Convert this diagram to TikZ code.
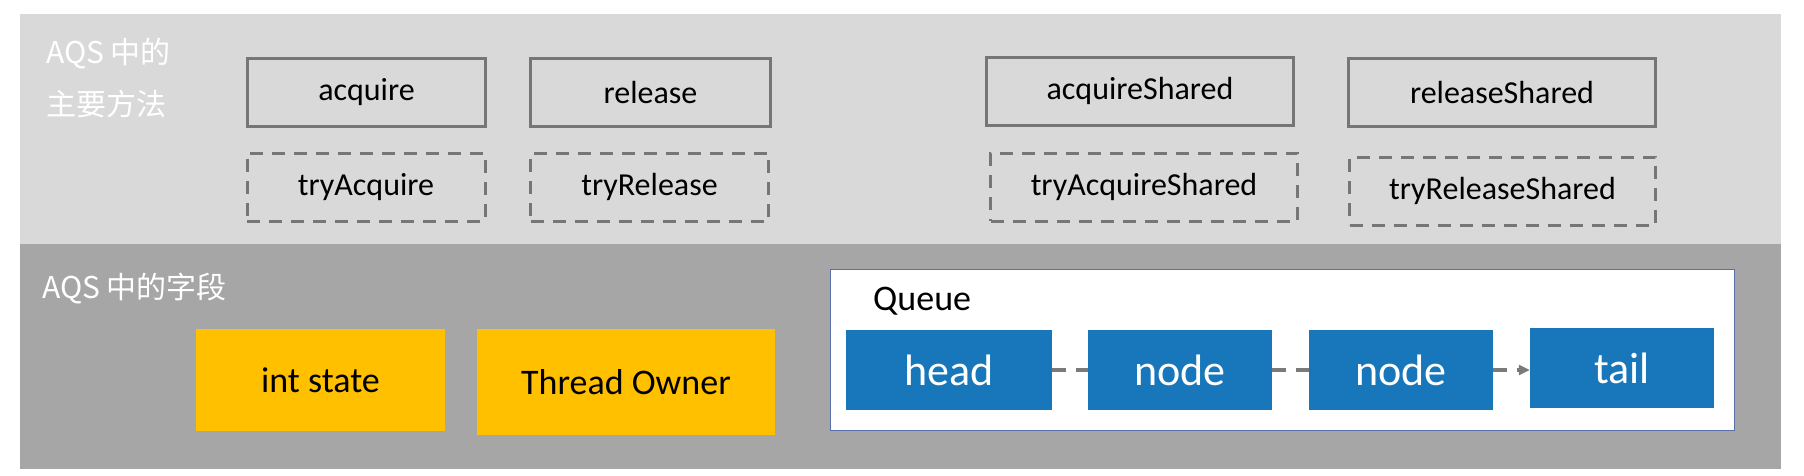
\documentclass[tikz,border=0pt]{standalone}
\usepackage{fontspec}
\setmainfont{Carlito}
\newfontfamily\cjk{Noto Sans CJK SC}
\usetikzlibrary{positioning,arrows.meta}

\definecolor{bandlight}{HTML}{D9D9D9}
\definecolor{banddark}{HTML}{A6A6A6}
\definecolor{boxgray}{HTML}{767676}
\definecolor{fieldyellow}{HTML}{FFC000}
\definecolor{qblue}{HTML}{1777BA}
\definecolor{qborder}{HTML}{5A6EA8}
\definecolor{linkgray}{HTML}{7A7A7A}

\begin{document}
\begin{tikzpicture}[x=1pt,y=-1pt,
        method/.style={draw=boxgray, line width=3pt, minimum width=238pt, minimum height=68pt,
            font=\fontsize{32}{38}\selectfont},
        trymethod/.style={method, dash pattern=on 13pt off 9pt},
        field/.style={fill=fieldyellow, minimum height=102pt, font=\fontsize{36}{43}\selectfont},
        qnode/.style={fill=qblue, text=white, minimum width=184pt, minimum height=80pt,
            font=\fontsize{44}{52}\selectfont},
        bandlabel/.style={text=white, font=\cjk\fontsize{30}{36}\selectfont, anchor=base west, inner sep=0pt},
        link/.style={draw=linkgray, line width=4pt, dash pattern=on 14pt off 10pt}]
    \useasboundingbox (0,0) rectangle (1804,475);
    \fill[bandlight] (20,14) rectangle (1781,244);
    \fill[banddark] (20,244) rectangle (1781,469);

    % methods
    \node[bandlabel] (mlbla) at (46,63) {AQS 中的};
    \node[bandlabel] (mlblb) at (46,115) {主要方法};
    \node[method] (acq) at (366.5,92.5) {acquire};
    \node[method, minimum width=240pt] (rel) at (650.5,92.5) {release};
    \node[method, minimum width=307pt] (acqs) at (1140,91) {acquireShared};
    \node[method, minimum width=307pt] (rels) at (1502,92.5) {releaseShared};
    \node[trymethod] (tacq) at (366,187) {tryAcquire};
    \node[trymethod] (trel) at (649.5,187) {tryRelease};
    \node[trymethod, minimum width=307pt] (tacqs) at (1144,187) {tryAcquireShared};
    \node[trymethod, minimum width=306pt] (trels) at (1502.5,191) {tryReleaseShared};

    % fields
    \node[bandlabel] (flbl) at (42,298) {AQS 中的字段};
    \node[field, minimum width=249pt] (state) at (320.5,380) {int state};
    \node[field, minimum width=298pt, minimum height=106pt] (owner) at (626,382) {Thread Owner};

    % queue
    \node[draw=qborder, line width=1.5pt, fill=white, minimum width=904pt, minimum height=161pt] (queue) at (1282.5,350) {};
    \node[anchor=base west, inner sep=0pt, font=\fontsize{36}{43}\selectfont] (qlbl) at (873,310) {Queue};
    \node[qnode, minimum width=206pt] (head) at (949,370) {head};
    \node[qnode] (n1) at (1180,370) {node};
    \node[qnode] (n2) at (1401,370) {node};
    \node[qnode] (tail) at (1622,368) {tail};

    \draw[link] (head) -- (n1);
    \draw[link] (n1) -- (n2);
    \draw[link, -{Triangle[length=11pt, width=10pt]}] (n2.east) -- (n2.east -| tail.west);
\end{tikzpicture}
\end{document}
